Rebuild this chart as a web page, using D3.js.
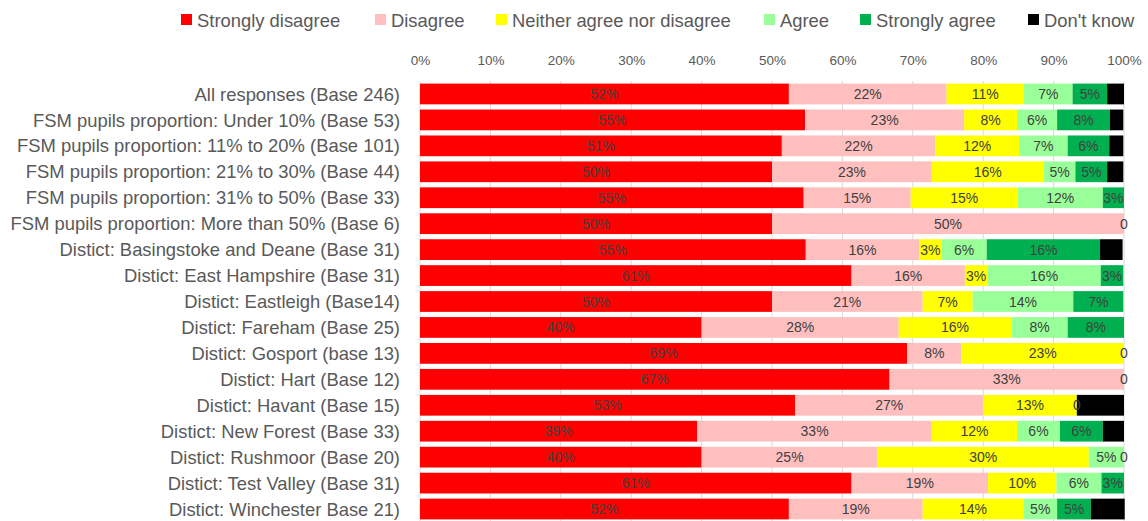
<!DOCTYPE html>
<html>
<head>
<meta charset="utf-8">
<script src="https://cdn.jsdelivr.net/npm/d3@7"></script>
<style>
  html, body { margin: 0; padding: 0; background: #fff; }
  svg { display: block; }
</style>
</head>
<body>
<svg id="chart" width="1148" height="521"></svg>
<script>
// Survey response groups (rows, top to bottom)
const categories = [
  "All responses (Base 246)",
  "FSM pupils proportion: Under 10% (Base 53)",
  "FSM pupils proportion: 11% to 20% (Base 101)",
  "FSM pupils proportion: 21% to 30% (Base 44)",
  "FSM pupils proportion: 31% to 50% (Base 33)",
  "FSM pupils proportion: More than 50% (Base 6)",
  "Distict: Basingstoke and Deane (Base 31)",
  "Distict: East Hampshire (Base 31)",
  "Distict: Eastleigh (Base14)",
  "Distict: Fareham (Base 25)",
  "Distict: Gosport (base 13)",
  "Distict: Hart (Base 12)",
  "Distict: Havant (Base 15)",
  "Distict: New Forest (Base 33)",
  "Distict: Rushmoor (Base 20)",
  "Distict: Test Valley (Base 31)",
  "Distict: Winchester Base 21)"
];

const seriesNames = ["Strongly disagree", "Disagree", "Neither agree nor disagree", "Agree", "Strongly agree", "Don't know"];
const seriesColors = ["#ff0000", "#ffbfbf", "#ffff00", "#99ff99", "#00b050", "#000000"];

// Percentage of responses per group, one array per answer
const stronglyDisagree = [52.4, 54.7, 51.4, 50.0, 54.5, 50.0, 54.8, 61.3, 50.0, 40.0, 69.2, 66.7, 53.3, 39.4, 40.0, 61.3, 52.4];
const disagree         = [22.4, 22.6, 21.8, 22.7, 15.2, 50.0, 16.1, 16.1, 21.4, 28.0,  7.7, 33.3, 26.7, 33.3, 25.0, 19.4, 19.0];
const neither          = [11.0,  7.5, 11.9, 15.9, 15.2,  0.0,  3.2,  3.2,  7.1, 16.0, 23.1,  0.0, 13.3, 12.1, 30.0,  9.7, 14.3];
const agree            = [ 6.9,  5.7,  6.9,  4.5, 12.1,  0.0,  6.4, 16.1, 14.3,  8.0,  0.0,  0.0,  0.0,  6.1,  5.0,  6.4,  4.8];
const stronglyAgree    = [ 4.9,  7.5,  5.9,  4.5,  3.0,  0.0, 16.1,  3.2,  7.1,  8.0,  0.0,  0.0,  0.0,  6.1,  0.0,  3.2,  4.8];
const dontKnow         = [ 2.4,  1.9,  2.0,  2.3,  0.0,  0.0,  3.2,  0.0,  0.0,  0.0,  0.0,  0.0,  6.7,  3.0,  0.0,  0.0,  4.8];

const tickValues = [0, 10, 20, 30, 40, 50, 60, 70, 80, 90, 100];

const seriesValues = [stronglyDisagree, disagree, neither, agree, stronglyAgree, dontKnow];

// Build a row-per-category table for d3.stack
const table = categories.map((c, i) => {
  const row = { category: c };
  seriesNames.forEach((s, k) => { row[s] = seriesValues[k][i]; });
  return row;
});

const stacked = d3.stack().keys(seriesNames)(table);

const svg = d3.select("#chart");
const font = "'Liberation Sans', Arial, sans-serif";

const x = d3.scaleLinear().domain([0, 100]).range([420, 1124]);
const y = d3.scaleBand().domain(categories).range([81, 522]).paddingInner(0.2).paddingOuter(0.1);

// Vertical gridlines
svg.append("g")
  .selectAll("line")
  .data(tickValues)
  .join("line")
  .attr("x1", d => x(d)).attr("x2", d => x(d))
  .attr("y1", 81).attr("y2", 521)
  .attr("stroke", "#d9d9d9")
  .attr("stroke-width", 1);

// Top axis tick labels
const axis = d3.axisTop(x).tickValues(tickValues).tickFormat(d => d + "%").tickSize(0).tickPadding(0);
const axisG = svg.append("g").attr("transform", "translate(0,65)").call(axis);
axisG.select(".domain").remove();
axisG.selectAll("text")
  .attr("font-family", font)
  .attr("font-size", 13.5)
  .attr("fill", "#595959");

// Stacked bar segments
const layers = svg.append("g")
  .selectAll("g")
  .data(stacked)
  .join("g")
  .attr("fill", (d, i) => seriesColors[i]);

layers.selectAll("rect")
  .data(d => d)
  .join("rect")
  .attr("x", d => x(d[0]))
  .attr("y", d => y(d.data.category))
  .attr("width", d => x(d[1]) - x(d[0]))
  .attr("height", y.bandwidth());

// Segment value labels
const labelG = svg.append("g");
stacked.forEach((layer, k) => {
  if (seriesNames[k] === "Don't know") return;
  layer.forEach(d => {
    const v = d[1] - d[0];
    let txt = "";
    if (v > 0) txt = Math.round(v) + "%";
    else if (seriesNames[k] === "Strongly agree") txt = "0";
    if (!txt) return;
    labelG.append("text")
      .attr("x", x((d[0] + d[1]) / 2))
      .attr("y", y(d.data.category) + y.bandwidth() / 2)
      .attr("dy", "0.36em")
      .attr("text-anchor", "middle")
      .attr("font-family", font)
      .attr("font-size", 14)
      .attr("fill", "#404040")
      .text(txt);
  });
});

// Category labels
svg.append("g")
  .selectAll("text")
  .data(categories)
  .join("text")
  .attr("x", 400)
  .attr("y", d => y(d) + y.bandwidth() / 2)
  .attr("dy", "0.36em")
  .attr("text-anchor", "end")
  .attr("font-family", font)
  .attr("font-size", 18.4)
  .attr("fill", "#595959")
  .text(d => d);

// Legend
const legendX = [181, 375, 496, 764, 860, 1028];
const legend = svg.append("g")
  .selectAll("g")
  .data(seriesNames)
  .join("g")
  .attr("transform", (d, i) => `translate(${legendX[i]},20)`);
legend.append("rect")
  .attr("x", 0).attr("y", -6)
  .attr("width", 11).attr("height", 11)
  .attr("fill", (d, i) => seriesColors[i]);
legend.append("text")
  .attr("x", 16).attr("y", 0)
  .attr("dy", "0.36em")
  .attr("font-family", font)
  .attr("font-size", 18.4)
  .attr("fill", "#595959")
  .text(d => d);
</script>
</body>
</html>
